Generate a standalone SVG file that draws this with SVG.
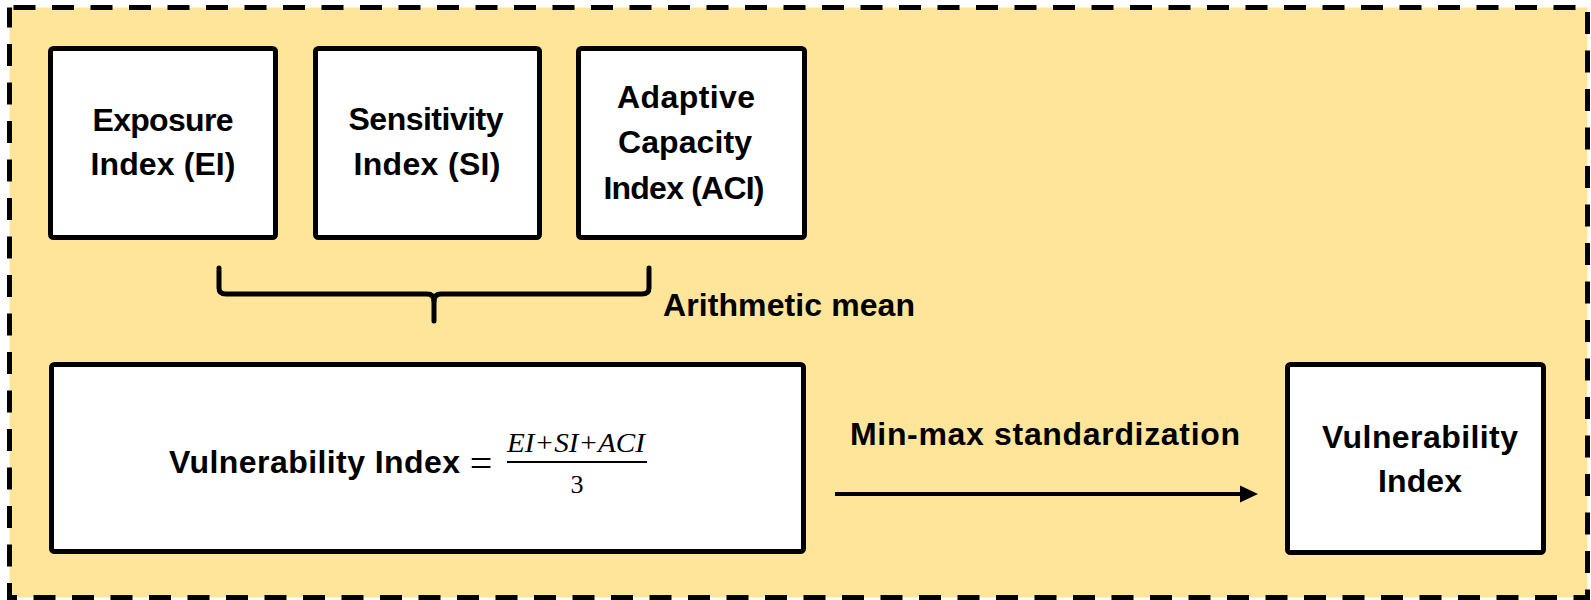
<svg xmlns="http://www.w3.org/2000/svg" width="1591" height="600" viewBox="0 0 1591 600">
  <style>
    .box { fill: #ffffff; stroke: #000000; stroke-width: 5; }
    .lbl { font-family: "Liberation Sans", Arial, sans-serif; font-weight: bold; font-size: 32px; fill: #000000; text-anchor: middle; }
    .math { font-family: "Liberation Serif", "Times New Roman", serif; fill: #000000; text-anchor: middle; }
    .conn { fill: none; stroke: #000000; stroke-width: 5; stroke-linecap: round; stroke-linejoin: round; }
  </style>

  <g id="frame">
    <rect x="9.5" y="7.5" width="1578" height="590" fill="#ffe599" stroke="#000000" stroke-width="5" stroke-dasharray="22 16.5" stroke-dashoffset="-4"/>
  </g>

  <g id="node-exposure">
    <rect class="box" x="50.5" y="48.5" width="225" height="189" rx="3"/>
    <text class="lbl" x="163" y="131" textLength="141">Exposure</text>
    <text class="lbl" x="163" y="175" textLength="145">Index (EI)</text>
  </g>

  <g id="node-sensitivity">
    <rect class="box" x="315.5" y="48.5" width="224" height="189" rx="3"/>
    <text class="lbl" x="426" y="130" textLength="155">Sensitivity</text>
    <text class="lbl" x="427" y="175" textLength="147">Index (SI)</text>
  </g>

  <g id="node-adaptive">
    <rect class="box" x="578.5" y="48.5" width="226" height="189" rx="3"/>
    <text class="lbl" x="686" y="108" textLength="138">Adaptive</text>
    <text class="lbl" x="685" y="153" textLength="134">Capacity</text>
    <text class="lbl" x="684" y="199" textLength="161">Index (ACI)</text>
  </g>

  <g id="node-formula">
    <rect class="box" x="51.5" y="364.5" width="752" height="187" rx="3"/>
    <text class="lbl" x="314.5" y="473" textLength="291">Vulnerability Index</text>
    <text class="math" x="481" y="477" font-size="40">=</text>
    <text class="math" x="576" y="452" font-size="27" font-style="italic" textLength="138" lengthAdjust="spacingAndGlyphs">EI+SI+ACI</text>
    <line x1="507" y1="462" x2="647" y2="462" stroke="#000000" stroke-width="2"/>
    <text class="math" x="577" y="493" font-size="26">3</text>
  </g>

  <g id="node-result">
    <rect class="box" x="1287.5" y="364.5" width="256" height="188" rx="3"/>
    <text class="lbl" x="1420" y="448" textLength="196">Vulnerability</text>
    <text class="lbl" x="1420" y="492" textLength="84">Index</text>
  </g>

  <g id="connectors">
    <path class="conn" d="M219,268 V288 Q219,294 226,294 H427 Q434,294 434,301 V321"/>
    <path class="conn" d="M649,268 V288 Q649,294 642,294 H441 Q434,294 434,301"/>
    <text class="lbl" x="789" y="316" textLength="252">Arithmetic mean</text>
    <line x1="835" y1="494" x2="1243" y2="494" stroke="#000000" stroke-width="4"/>
    <polygon points="1240,485.5 1258,494 1240,502.5" fill="#000000"/>
    <text class="lbl" x="1045" y="445" textLength="390">Min-max standardization</text>
  </g>
</svg>
